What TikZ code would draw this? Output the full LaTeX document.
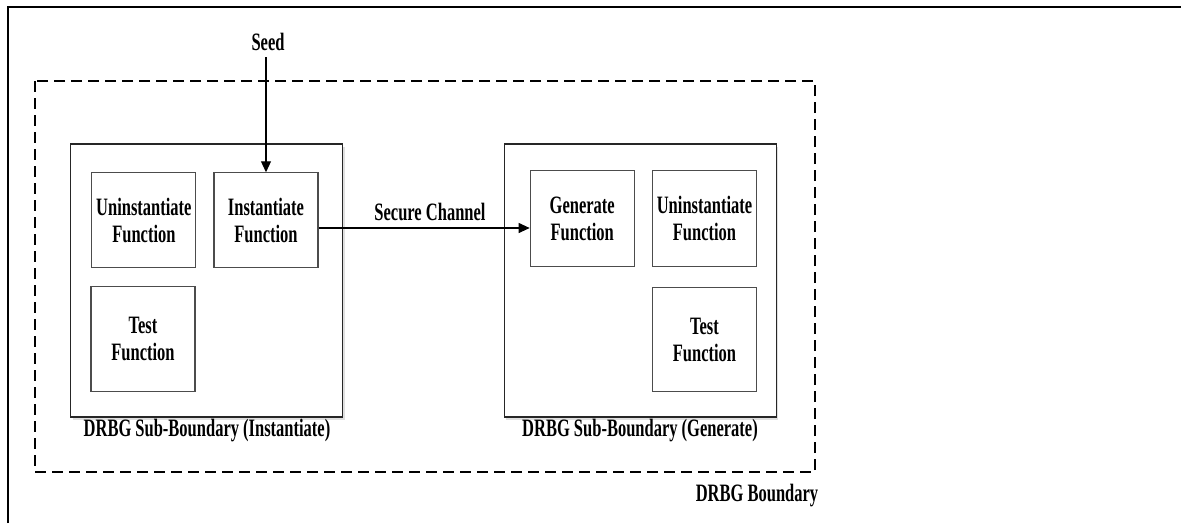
\documentclass[tikz,border=0pt]{standalone}
\usepackage{fontspec}
\setmainfont[FakeStretch=0.66]{Liberation Serif}
\usetikzlibrary{arrows.meta,shadows}
\begin{document}
\begin{tikzpicture}[x=1pt,y=-1pt,
  txt/.style={font=\fontsize{25}{27}\selectfont\bfseries, align=center, text=black},
  fbox/.style={txt, draw=black!70, line width=1.1pt, minimum width=104pt, inner sep=0pt},
  subb/.style={draw=black!85, line width=1.4pt, fill=white, inner sep=0pt,
     drop shadow={opacity=0.25, shadow xshift=2pt, shadow yshift=-3pt}},
  arr/.style={line width=1.1pt, -{Triangle[length=11pt,width=10pt]}}
]
\useasboundingbox (0,0) rectangle (1181,523);
\fill[white] (0,0) rectangle (1181,523);
% outer frame
\draw[line width=2pt] (8,523) -- (8,7) -- (1181,7);
% DRBG boundary
\draw[line width=1.3pt, dash pattern=on 11pt off 6pt] (35,81) rectangle (815,472);
\node[txt] (bnd) at (757,496) {DRBG Boundary};
% sub-boundaries
\node[subb, minimum width=272pt, minimum height=273pt] (subL) at (206.7,280.5) {};
\node[subb, minimum width=272pt, minimum height=273pt] (subR) at (640.2,280.5) {};
\node[txt] (labL) at (207,431) {DRBG Sub-Boundary (Instantiate)};
\node[txt] (labR) at (640,431) {DRBG Sub-Boundary (Generate)};
% left functions
\node[fbox, minimum height=95pt] (uninstL) at (143.9,220.3) {Uninstantiate\\Function};
\node[fbox, minimum height=95pt] (inst) at (266,220.3) {Instantiate\\Function};
\node[fbox, minimum height=105pt] (testL) at (143,339.2) {Test\\Function};
% right functions
\node[fbox, minimum height=96pt] (gen) at (582.2,218.9) {Generate\\Function};
\node[fbox, minimum height=96pt] (uninstR) at (704.5,218.9) {Uninstantiate\\Function};
\node[fbox, minimum height=104pt] (testR) at (704.5,339.7) {Test\\Function};
% seed
\node[txt] (seed) at (268,42) {Seed};
\draw[arr] (seed.south -| inst.north) ++(0,3) -- (inst.north);
% secure channel
\coordinate (chy) at (0,228);
\draw[arr] (inst.east |- chy) -- (gen.west |- chy);
\node[txt] (sc) at (430,212) {Secure Channel};
\end{tikzpicture}
\end{document}
